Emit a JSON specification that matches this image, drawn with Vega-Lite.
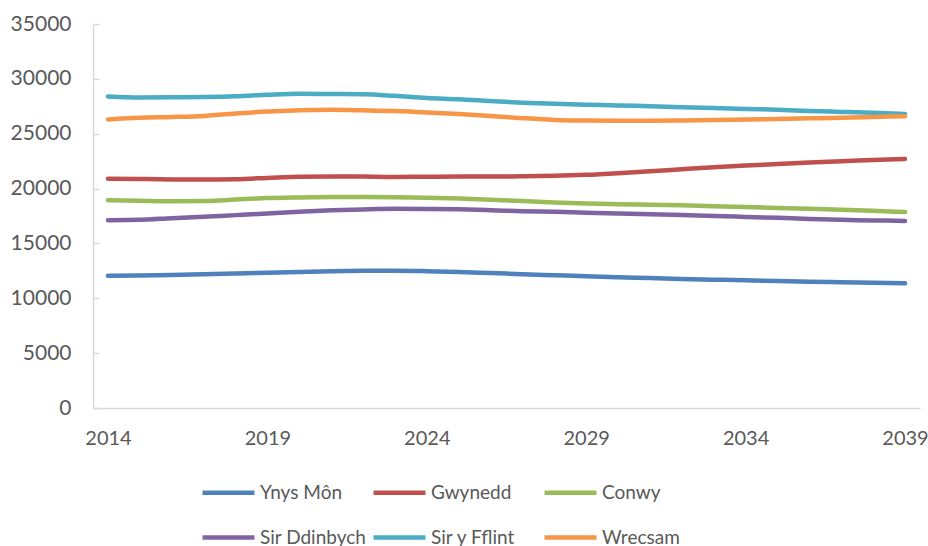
{
  "$schema": "https://vega.github.io/schema/vega-lite/v6.json",
  "width": 827,
  "height": 384,
  "autosize": {"type": "none"},
  "padding": {"left": 93, "top": 24, "right": 8, "bottom": 138},
  "background": "white",
  "config": {"font": "Lato", "view": {"stroke": null}},
  "data": {"values": [
    {"year": 2014, "Ynys Môn": 12050, "Gwynedd": 20900, "Conwy": 18930, "Sir Ddinbych": 17120, "Sir y Fflint": 28400, "Wrecsam": 26300},
    {"year": 2015, "Ynys Môn": 12080, "Gwynedd": 20870, "Conwy": 18880, "Sir Ddinbych": 17150, "Sir y Fflint": 28300, "Wrecsam": 26450},
    {"year": 2016, "Ynys Môn": 12120, "Gwynedd": 20830, "Conwy": 18840, "Sir Ddinbych": 17300, "Sir y Fflint": 28320, "Wrecsam": 26520},
    {"year": 2017, "Ynys Môn": 12200, "Gwynedd": 20820, "Conwy": 18860, "Sir Ddinbych": 17430, "Sir y Fflint": 28350, "Wrecsam": 26620},
    {"year": 2018, "Ynys Môn": 12270, "Gwynedd": 20860, "Conwy": 19000, "Sir Ddinbych": 17580, "Sir y Fflint": 28420, "Wrecsam": 26850},
    {"year": 2019, "Ynys Môn": 12330, "Gwynedd": 20970, "Conwy": 19130, "Sir Ddinbych": 17730, "Sir y Fflint": 28550, "Wrecsam": 27020},
    {"year": 2020, "Ynys Môn": 12400, "Gwynedd": 21080, "Conwy": 19190, "Sir Ddinbych": 17890, "Sir y Fflint": 28640, "Wrecsam": 27150},
    {"year": 2021, "Ynys Môn": 12470, "Gwynedd": 21110, "Conwy": 19230, "Sir Ddinbych": 18020, "Sir y Fflint": 28620, "Wrecsam": 27180},
    {"year": 2022, "Ynys Môn": 12500, "Gwynedd": 21090, "Conwy": 19240, "Sir Ddinbych": 18100, "Sir y Fflint": 28600, "Wrecsam": 27130},
    {"year": 2023, "Ynys Môn": 12510, "Gwynedd": 21060, "Conwy": 19220, "Sir Ddinbych": 18150, "Sir y Fflint": 28450, "Wrecsam": 27060},
    {"year": 2024, "Ynys Môn": 12470, "Gwynedd": 21080, "Conwy": 19170, "Sir Ddinbych": 18140, "Sir y Fflint": 28250, "Wrecsam": 26930},
    {"year": 2025, "Ynys Môn": 12400, "Gwynedd": 21100, "Conwy": 19090, "Sir Ddinbych": 18110, "Sir y Fflint": 28150, "Wrecsam": 26800},
    {"year": 2026, "Ynys Môn": 12300, "Gwynedd": 21100, "Conwy": 18980, "Sir Ddinbych": 18030, "Sir y Fflint": 27980, "Wrecsam": 26620},
    {"year": 2027, "Ynys Môn": 12200, "Gwynedd": 21120, "Conwy": 18860, "Sir Ddinbych": 17930, "Sir y Fflint": 27830, "Wrecsam": 26420},
    {"year": 2028, "Ynys Môn": 12100, "Gwynedd": 21160, "Conwy": 18740, "Sir Ddinbych": 17880, "Sir y Fflint": 27720, "Wrecsam": 26260},
    {"year": 2029, "Ynys Môn": 12000, "Gwynedd": 21250, "Conwy": 18640, "Sir Ddinbych": 17800, "Sir y Fflint": 27640, "Wrecsam": 26200},
    {"year": 2030, "Ynys Môn": 11920, "Gwynedd": 21400, "Conwy": 18580, "Sir Ddinbych": 17730, "Sir y Fflint": 27580, "Wrecsam": 26190},
    {"year": 2031, "Ynys Môn": 11850, "Gwynedd": 21580, "Conwy": 18530, "Sir Ddinbych": 17660, "Sir y Fflint": 27500, "Wrecsam": 26190},
    {"year": 2032, "Ynys Môn": 11760, "Gwynedd": 21760, "Conwy": 18470, "Sir Ddinbych": 17590, "Sir y Fflint": 27420, "Wrecsam": 26210},
    {"year": 2033, "Ynys Môn": 11700, "Gwynedd": 21940, "Conwy": 18400, "Sir Ddinbych": 17510, "Sir y Fflint": 27340, "Wrecsam": 26240},
    {"year": 2034, "Ynys Môn": 11640, "Gwynedd": 22100, "Conwy": 18320, "Sir Ddinbych": 17420, "Sir y Fflint": 27260, "Wrecsam": 26290},
    {"year": 2035, "Ynys Môn": 11570, "Gwynedd": 22240, "Conwy": 18240, "Sir Ddinbych": 17330, "Sir y Fflint": 27180, "Wrecsam": 26340},
    {"year": 2036, "Ynys Môn": 11510, "Gwynedd": 22380, "Conwy": 18160, "Sir Ddinbych": 17230, "Sir y Fflint": 27080, "Wrecsam": 26400},
    {"year": 2037, "Ynys Môn": 11460, "Gwynedd": 22500, "Conwy": 18070, "Sir Ddinbych": 17150, "Sir y Fflint": 26990, "Wrecsam": 26460},
    {"year": 2038, "Ynys Môn": 11410, "Gwynedd": 22600, "Conwy": 17970, "Sir Ddinbych": 17100, "Sir y Fflint": 26900, "Wrecsam": 26530},
    {"year": 2039, "Ynys Môn": 11360, "Gwynedd": 22700, "Conwy": 17870, "Sir Ddinbych": 17050, "Sir y Fflint": 26800, "Wrecsam": 26600}
  ]},
  "transform": [
    {"fold": ["Ynys Môn", "Gwynedd", "Conwy", "Sir Ddinbych", "Sir y Fflint", "Wrecsam"], "as": ["area", "value"]}
  ],
  "mark": {"type": "line", "interpolate": "monotone", "strokeWidth": 4.5, "strokeCap": "round", "strokeJoin": "round"},
  "encoding": {
    "x": {
      "field": "year", "type": "quantitative",
      "scale": {"domain": [2013.53, 2039.47], "nice": false, "zero": false},
      "axis": {
        "title": null, "values": [2014, 2019, 2024, 2029, 2034, 2039], "format": "d",
        "grid": false, "ticks": false, "domainColor": "#d9d9d9", "domainWidth": 1.5,
        "labelFontSize": 20, "labelColor": "#595959", "labelPadding": 20, "labelFlush": false
      }
    },
    "y": {
      "field": "value", "type": "quantitative",
      "scale": {"domain": [0, 35000], "nice": false},
      "axis": {
        "title": null, "values": [0, 5000, 10000, 15000, 20000, 25000, 30000, 35000], "format": "d",
        "grid": false, "domainColor": "#d9d9d9", "domainWidth": 1.5,
        "ticks": true, "tickSize": -6, "tickColor": "#d9d9d9", "tickWidth": 1.5,
        "labelFontSize": 21, "labelColor": "#595959", "labelPadding": 28
      }
    },
    "color": {
      "field": "area", "type": "nominal",
      "scale": {
        "domain": ["Ynys Môn", "Gwynedd", "Conwy", "Sir Ddinbych", "Sir y Fflint", "Wrecsam"],
        "range": ["#4F81BD", "#C0504D", "#9BBB59", "#8064A2", "#4BACC6", "#F79646"]
      },
      "legend": {
        "title": null, "orient": "none", "legendX": 107, "legendY": 440,
        "direction": "horizontal", "columns": 3, "columnPadding": -3, "rowPadding": 6, "gridAlign": "all",
        "symbolType": "stroke", "symbolSize": 2704, "symbolStrokeWidth": 4.5,
        "labelFontSize": 19, "labelColor": "#595959", "labelOffset": 3, "labelLimit": 300
      }
    }
  }
}
